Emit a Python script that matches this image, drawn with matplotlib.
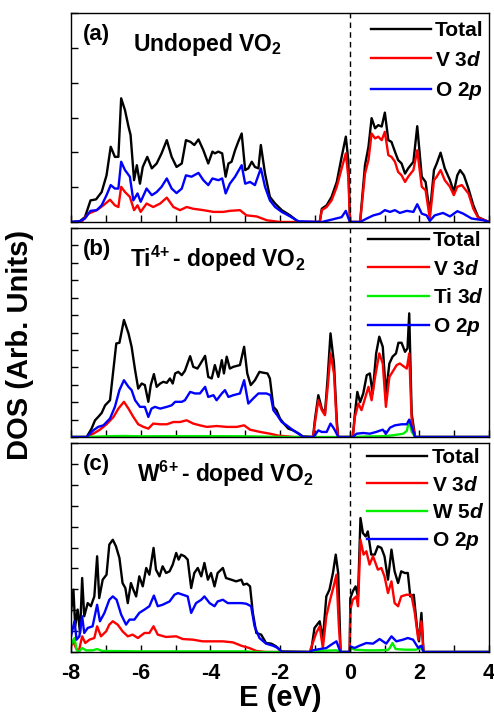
import matplotlib
matplotlib.use("Agg")
import matplotlib.pyplot as plt
from matplotlib.ticker import MultipleLocator

plt.rcParams['font.family'] = ['Liberation Sans', 'DejaVu Sans']
plt.rcParams['font.weight'] = 'bold'
plt.rcParams['axes.unicode_minus'] = False
plt.rcParams['mathtext.fontset'] = 'custom'
plt.rcParams['mathtext.rm'] = 'Liberation Sans:bold'
plt.rcParams['mathtext.it'] = 'Liberation Sans:italic:bold'
plt.rcParams['mathtext.bf'] = 'Liberation Sans:bold'

# ---------------- (a) undoped VO2 ----------------
a_tot_e = [-8, -7.75, -7.6, -7.44, -7.28, -7.12, -6.98, -6.86, -6.74, -6.64, -6.56, -6.45, -6.35, -6.29, -6.19,
           -6.11, -6.02, -5.94, -5.81, -5.68, -5.54, -5.4, -5.25, -5.11, -4.97, -4.82, -4.7, -4.57, -4.46, -4.34,
           -4.2, -4.06, -3.94, -3.87, -3.77, -3.66, -3.56, -3.48, -3.39, -3.29, -3.2, -3.1, -3.0, -2.91, -2.81,
           -2.72, -2.62, -2.55, -2.43, -2.29, -2.14, -1.95, -1.71, -1.47, -0.86, -0.8, -0.66, -0.52, -0.37, -0.23,
           -0.11, -0.04, 0.01, 0.3, 0.44, 0.54, 0.63, 0.73, 0.82, 0.92, 1.01, 1.11, 1.2, 1.3, 1.39, 1.49, 1.59,
           1.68, 1.83, 1.94, 2.07, 2.18, 2.3, 2.42, 2.5, 2.61, 2.73, 2.88, 2.99, 3.09, 3.17, 3.28, 3.41, 3.55,
           3.69, 3.88, 4.0]
a_tot = [0, 0.02, 0.14, 0.62, 0.65, 0.86, 1.34, 2.16, 1.87, 1.87, 3.55, 3.21, 2.74, 2.5, 1.2, 1.63, 1.1, 1.58,
         1.87, 1.54, 1.68, 1.97, 2.35, 1.87, 1.58, 1.68, 2.35, 2.3, 2.21, 2.37, 2.06, 1.68, 2.02, 1.97, 2.02, 1.97,
         1.3, 1.68, 1.73, 2.06, 2.3, 2.54, 1.49, 1.54, 1.73, 1.58, 1.54, 2.21, 1.39, 0.72, 0.53, 0.34, 0.19, 0.0,
         0.0, 0.38, 0.48, 0.72, 1.15, 1.87, 2.45, 1.78, 0.0, 0.0, 1.63, 2.16, 2.98, 2.69, 2.78, 2.74, 3.14, 2.35,
         2.3, 2.02, 1.78, 1.68, 1.39, 1.54, 1.73, 2.75, 1.3, 1.15, 0.24, 1.49, 1.68, 1.99, 1.54, 1.2, 0.86, 1.34,
         1.49, 1.34, 0.96, 0.48, 0.14, 0.05, 0.0]

a_v3d_e = [-8, -7.7, -7.5, -7.26, -7.07, -6.88, -6.74, -6.64, -6.56, -6.45, -6.31, -6.19, -6.09, -6.0, -5.83,
           -5.64, -5.44, -5.25, -5.06, -4.87, -4.68, -4.49, -4.2, -3.91, -3.63, -3.44, -3.15, -2.96, -2.67, -2.38,
           -2.0, -0.86, -0.8, -0.66, -0.52, -0.37, -0.23, -0.11, -0.04, 0.01, 0.3, 0.44, 0.54, 0.63, 0.73, 0.82,
           0.92, 1.01, 1.11, 1.2, 1.3, 1.39, 1.49, 1.59, 1.68, 1.83, 1.94, 2.07, 2.18, 2.3, 2.42, 2.5, 2.61, 2.73,
           2.88, 2.99, 3.09, 3.22, 3.41, 3.55, 3.69, 3.88, 4.0]
a_v3d = [0, 0, 0.24, 0.34, 0.48, 0.64, 0.48, 0.43, 1.01, 0.86, 0.72, 0.34, 0.48, 0.29, 0.53, 0.43, 0.53, 0.7,
         0.43, 0.34, 0.43, 0.38, 0.34, 0.29, 0.29, 0.32, 0.34, 0.19, 0.16, 0.05, 0.0, 0.0, 0.34, 0.43, 0.62, 1.01,
         1.54, 1.97, 1.3, 0.0, 0.0, 1.39, 1.78, 2.54, 2.4, 2.45, 2.35, 2.59, 1.92, 1.87, 1.73, 1.44, 1.34, 1.15,
         1.3, 1.49, 2.06, 1.01, 0.91, 0.1, 1.2, 1.3, 1.49, 1.2, 1.01, 0.77, 1.01, 1.06, 0.82, 0.38, 0.12, 0.05, 0.0]

a_o2p_e = [-8, -7.75, -7.6, -7.44, -7.26, -7.12, -6.98, -6.86, -6.74, -6.64, -6.56, -6.45, -6.31, -6.21, -6.09,
           -6.0, -5.83, -5.68, -5.54, -5.4, -5.25, -5.11, -4.97, -4.82, -4.7, -4.54, -4.34, -4.2, -4.06, -3.94,
           -3.77, -3.66, -3.56, -3.44, -3.29, -3.1, -3.0, -2.86, -2.72, -2.55, -2.43, -2.29, -2.14, -1.95, -1.71,
           -1.47, -0.8, -0.47, -0.23, -0.11, -0.04, 0.01, 0.3, 0.49, 0.68, 0.87, 1.01, 1.16, 1.3, 1.44, 1.64, 1.83,
           1.94, 2.07, 2.21, 2.3, 2.44, 2.68, 2.88, 3.09, 3.26, 3.5, 3.84, 4.0]
a_o2p = [0, 0.02, 0.1, 0.32, 0.34, 0.48, 0.77, 1.06, 0.96, 0.96, 1.73, 1.49, 1.3, 0.62, 0.82, 0.58, 0.96, 0.77,
         0.86, 1.01, 1.25, 0.96, 0.83, 0.96, 1.34, 1.3, 1.41, 1.2, 1.06, 1.25, 1.2, 1.25, 0.82, 1.1, 1.3, 1.63, 1.1,
         1.15, 1.06, 1.54, 1.01, 0.62, 0.43, 0.29, 0.16, 0.02, 0.0, 0.08, 0.14, 0.32, 0.12, 0.0, 0.0, 0.1, 0.19,
         0.24, 0.34, 0.29, 0.34, 0.26, 0.32, 0.29, 0.51, 0.24, 0.19, 0.03, 0.19, 0.26, 0.16, 0.31, 0.24, 0.1, 0.05,
         0.0]

# ---------------- (b) Ti4+ doped ----------------
b_tot_e = [-8, -7.55, -7.41, -7.31, -7.22, -7.12, -7.02, -6.88, -6.7, -6.61, -6.48, -6.35, -6.26, -6.16, -6.07,
           -5.97, -5.88, -5.78, -5.71, -5.62, -5.54, -5.44, -5.35, -5.25, -5.16, -5.08, -5.01, -4.92, -4.82, -4.73,
           -4.58, -4.49, -4.37, -4.28, -4.15, -4.06, -3.96, -3.87, -3.77, -3.67, -3.61, -3.53, -3.44, -3.34, -3.15,
           -3.03, -2.94, -2.84, -2.72, -2.59, -2.48, -2.36, -2.29, -2.19, -2.1, -2.0, -1.89, -1.76, -1.62, -1.47,
           -1.35, -1.05, -1.0, -0.9, -0.8, -0.71, -0.63, -0.55, -0.45, -0.37, -0.33, 0.09, 0.15, 0.22, 0.3, 0.39,
           0.49, 0.58, 0.66, 0.76, 0.85, 0.95, 1.04, 1.14, 1.23, 1.33, 1.4, 1.49, 1.59, 1.66, 1.71, 1.78, 1.88, 4.0]
b_tot = [0, 0, 0.48, 0.96, 1.15, 1.38, 1.82, 2.11, 5.37, 5.41, 6.72, 5.95, 5.18, 3.84, 2.78, 3.07, 2.98, 2.02,
         2.98, 3.61, 2.88, 3.07, 3.17, 3.11, 3.36, 3.07, 3.65, 3.74, 3.55, 3.8, 4.64, 4.03, 3.93, 4.22, 4.66, 3.45,
         3.36, 4.13, 3.45, 4.41, 3.65, 4.61, 3.93, 4.03, 4.13, 5.18, 3.65, 2.98, 3.26, 3.74, 3.69, 3.65, 3.36, 1.73,
         1.54, 1.06, 0.77, 0.48, 0.38, 0.21, 0.04, 0, 0.96, 2.4, 1.63, 1.34, 3.45, 5.95, 4.22, 0.96, 0, 0, 1.34,
         2.59, 2.0, 2.5, 3.55, 3.65, 2.5, 4.8, 5.76, 5.18, 2.5, 4.22, 4.61, 4.8, 5.41, 5.41, 4.89, 5.09, 7.1, 1.34,
         0, 0]

b_v3d_e = [-8, -7.55, -7.36, -7.17, -6.98, -6.78, -6.64, -6.48, -6.35, -6.21, -6.07, -5.92, -5.78, -5.64, -5.44,
           -5.25, -5.06, -4.87, -4.68, -4.49, -4.3, -4.1, -3.82, -3.53, -3.24, -3.03, -2.86, -2.57, -2.29, -2.05,
           -1.81, -1.6, -1.05, -1.0, -0.9, -0.8, -0.71, -0.63, -0.55, -0.45, -0.37, -0.33, 0.09, 0.15, 0.25, 0.34,
           0.44, 0.54, 0.63, 0.73, 0.85, 0.95, 1.04, 1.14, 1.23, 1.35, 1.44, 1.54, 1.64, 1.71, 1.78, 1.88, 4.0]
b_v3d = [0, 0, 0.19, 0.42, 0.73, 1.15, 1.63, 2.02, 1.63, 1.15, 0.73, 0.58, 0.48, 0.77, 0.73, 0.73, 0.86, 0.86,
         0.96, 0.77, 0.67, 0.58, 0.63, 0.58, 0.58, 0.67, 0.42, 0.29, 0.19, 0.08, 0.04, 0, 0, 0.77, 2.11, 1.54,
         1.25, 2.88, 4.8, 3.65, 0.67, 0, 0, 1.15, 1.92, 1.54, 2.21, 2.88, 2.11, 3.45, 4.8, 4.22, 1.73, 3.45, 3.74,
         4.13, 4.22, 4.07, 3.93, 4.8, 0.96, 0, 0]

b_ti3d_e = [-8, -7.6, -7.0, -6.5, -6.0, -5.0, -4.0, -3.0, -2.4, -1.8, 0.09, 0.5, 1.0, 1.25, 1.54, 1.64, 1.71,
            1.78, 1.88, 4.0]
b_ti3d = [0, 0, 0.04, 0.06, 0.04, 0.05, 0.05, 0.04, 0.02, 0, 0, 0.03, 0.05, 0.1, 0.19, 0.35, 0.96, 0.3, 0, 0]

b_o2p_e = [-8, -7.55, -7.36, -7.22, -7.07, -6.88, -6.74, -6.61, -6.48, -6.35, -6.26, -6.16, -6.02, -5.88, -5.78,
           -5.69, -5.59, -5.44, -5.25, -5.11, -5.01, -4.82, -4.73, -4.58, -4.44, -4.3, -4.15, -4.06, -3.91, -3.82,
           -3.67, -3.58, -3.48, -3.34, -3.15, -3.03, -2.91, -2.77, -2.62, -2.39, -2.27, -2.19, -2.08, -1.95, -1.81,
           -1.62, -1.47, -1.33, -1.05, -1.0, -0.9, -0.8, -0.66, -0.55, -0.45, -0.35, -0.33, 0.09, 0.2, 0.39, 0.58,
           0.76, 0.95, 1.04, 1.16, 1.3, 1.49, 1.64, 1.71, 1.78, 1.88, 4.0]
b_o2p = [0, 0, 0.38, 0.58, 0.67, 1.06, 1.73, 2.69, 3.26, 2.88, 2.69, 2.11, 1.73, 1.73, 1.15, 1.63, 1.73, 1.63,
         1.73, 1.82, 2.02, 2.02, 2.11, 2.59, 2.5, 2.5, 2.88, 2.3, 2.4, 2.11, 2.5, 2.69, 2.3, 2.4, 2.5, 3.26, 1.92,
         2.21, 2.5, 2.5, 2.4, 1.54, 1.25, 0.86, 0.67, 0.38, 0.19, 0, 0, 0.1, 0.38, 0.29, 0.29, 0.77, 0.48, 0.1, 0,
         0, 0.19, 0.23, 0.19, 0.29, 0.42, 0.19, 0.54, 0.67, 0.73, 0.73, 1.0, 0.58, 0, 0]

# ---------------- (c) W6+ doped ----------------
c_tot_e = [-8, -7.93, -7.88, -7.81, -7.74, -7.68, -7.62, -7.52, -7.43, -7.33, -7.25, -7.19, -7.09, -6.98, -6.9,
           -6.8, -6.71, -6.61, -6.52, -6.44, -6.37, -6.28, -6.21, -6.13, -6.04, -5.94, -5.84, -5.75, -5.63, -5.56,
           -5.46, -5.37, -5.27, -5.17, -5.08, -4.98, -4.91, -4.84, -4.74, -4.65, -4.55, -4.46, -4.36, -4.26, -4.17,
           -4.07, -3.98, -3.88, -3.79, -3.64, -3.55, -3.4, -3.26, -3.11, -3.05, -2.95, -2.86, -2.78, -2.68, -2.54,
           -2.4, -2.25, -2.11, -1.97, -1.15, -1.1, -1.01, -0.86, -0.77, -0.67, -0.58, -0.48, -0.4, -0.33, -0.26,
           0.0, 0.02, 0.09, 0.17, 0.24, 0.31, 0.38, 0.46, 0.52, 0.62, 0.72, 0.81, 0.91, 1.0, 1.1, 1.2, 1.29, 1.39,
           1.48, 1.58, 1.67, 1.74, 1.84, 1.93, 1.99, 2.06, 2.12, 4.0]
c_tot = [1.87, 2.98, 1.23, 2.03, 0.91, 3.54, 1.71, 2.34, 2.19, 2.66, 4.58, 2.58, 3.46, 3.7, 5.14, 5.37, 5.06, 4.5,
         3.3, 3.06, 2.34, 3.3, 2.98, 2.66, 3.62, 3.14, 4.02, 3.7, 4.98, 3.94, 3.62, 4.1, 3.78, 3.86, 4.18, 4.74,
         4.42, 4.66, 4.58, 4.42, 3.06, 3.78, 4.02, 3.62, 4.26, 3.46, 3.78, 3.14, 3.78, 4.02, 3.54, 3.46, 3.38, 3.46,
         3.22, 3.27, 3.14, 1.87, 0.91, 0.83, 0.43, 0.4, 0.27, 0.03, 0, 0.11, 1.15, 1.47, 0.59, 2.66, 2.98, 3.78,
         4.66, 3.78, 0, 0, 2.58, 2.9, 3.14, 2.66, 6.41, 5.69, 5.53, 5.77, 4.66, 4.66, 5.06, 4.98, 4.58, 3.46, 4.9,
         3.86, 3.3, 3.86, 3.78, 3.78, 2.66, 2.74, 1.23, 0.51, 1.87, 0, 0]

c_v3d_e = [-8, -7.93, -7.86, -7.78, -7.68, -7.59, -7.47, -7.33, -7.25, -7.14, -6.99, -6.9, -6.8, -6.66, -6.52,
           -6.37, -6.23, -6.08, -5.89, -5.75, -5.63, -5.51, -5.27, -4.98, -4.79, -4.5, -4.22, -3.93, -3.64, -3.35,
           -3.11, -2.88, -2.68, -2.4, -1.15, -1.06, -0.96, -0.86, -0.77, -0.67, -0.56, -0.46, -0.38, -0.31, -0.26,
           0.0, 0.02, 0.09, 0.19, 0.24, 0.31, 0.4, 0.48, 0.57, 0.67, 0.81, 0.91, 1.0, 1.1, 1.2, 1.29, 1.39, 1.48,
           1.63, 1.77, 1.87, 1.97, 2.06, 2.12, 4.0]
c_v3d = [0.27, 0.51, 0.19, 0, 0.75, 0.43, 0.59, 0.67, 1.23, 0.75, 0.99, 1.31, 1.47, 1.31, 0.99, 0.75, 0.83, 0.67,
         0.91, 0.91, 1.23, 0.83, 0.72, 0.75, 0.62, 0.59, 0.51, 0.51, 0.51, 0.46, 0.3, 0.19, 0.05, 0, 0, 0.43, 0.91,
         1.23, 0.19, 1.71, 2.5, 3.14, 3.7, 1.23, 0, 0, 2.03, 2.5, 2.66, 2.19, 5.37, 4.66, 4.82, 4.18, 4.58, 3.94,
         4.02, 3.62, 2.82, 3.38, 2.34, 2.19, 2.66, 2.74, 2.74, 1.87, 0.59, 1.47, 0, 0]

c_w5d_e = [-8, -7.9, -7.84, -7.78, -7.68, -7.57, -7.38, -7.25, -7.1, -6.0, -5.0, -4.0, -3.0, -2.7, -1.15, -1.0,
           -0.38, -0.26, 0.0, 0.02, 0.15, 0.5, 0.8, 1.1, 1.15, 1.23, 1.32, 1.6, 1.9, 2.06, 2.12, 4.0]
c_w5d = [0.35, 0.67, 0.11, 0, 0.19, 0.08, 0.08, 0.14, 0.05, 0.03, 0.03, 0.03, 0.03, 0, 0, 0.05, 0.08, 0, 0, 0.19,
         0.11, 0.08, 0.08, 0.1, 0.19, 0.43, 0.14, 0.11, 0.11, 0.19, 0, 0]

c_o2p_e = [-8, -7.9, -7.84, -7.76, -7.68, -7.62, -7.52, -7.38, -7.25, -7.17, -7.04, -6.9, -6.8, -6.69, -6.56,
           -6.42, -6.32, -6.18, -6.04, -5.89, -5.75, -5.62, -5.51, -5.37, -5.17, -5.03, -4.93, -4.79, -4.65, -4.55,
           -4.41, -4.26, -4.17, -4.02, -3.88, -3.79, -3.64, -3.5, -3.31, -3.11, -2.97, -2.83, -2.73, -2.59, -2.4,
           -2.2, -2.06, -1.94, -1.15, -1.06, -0.86, -0.67, -0.53, -0.38, -0.29, -0.26, 0.0, 0.02, 0.14, 0.28, 0.48,
           0.67, 0.86, 1.05, 1.2, 1.34, 1.53, 1.67, 1.82, 1.97, 2.06, 2.12, 4.0]
c_o2p = [0.75, 1.47, 0.59, 0.75, 1.71, 0.91, 1.15, 1.23, 2.26, 1.47, 1.87, 2.5, 2.66, 2.5, 1.79, 1.31, 1.55, 1.55,
         1.87, 2.03, 2.19, 2.7, 2.19, 2.26, 2.42, 2.74, 2.82, 2.74, 2.66, 1.87, 2.34, 2.5, 2.66, 2.34, 2.19, 2.42,
         2.5, 2.34, 2.34, 2.34, 2.31, 2.19, 1.23, 0.67, 0.4, 0.3, 0.19, 0, 0, 0.08, 0.14, 0.19, 0.35, 0.51, 0.11, 0,
         0, 0.27, 0.19, 0.3, 0.43, 0.4, 0.62, 0.4, 0.75, 0.51, 0.59, 0.67, 0.59, 0.19, 0.3, 0, 0]

panels = [
    ('(a)', 'Undoped VO$_2$', 6,
     [(a_tot_e, a_tot, 'black', 'Total'), (a_v3d_e, a_v3d, 'red', 'V 3$d$'),
      (a_o2p_e, a_o2p, 'blue', 'O 2$p$')]),
    ('(b)', r'Ti$^{4\!+}$- doped VO$_2$', 12,
     [(b_tot_e, b_tot, 'black', 'Total'), (b_v3d_e, b_v3d, 'red', 'V 3$d$'),
      (b_ti3d_e, b_ti3d, '#00ee00', 'Ti 3$d$'), (b_o2p_e, b_o2p, 'blue', 'O 2$p$')]),
    ('(c)', r'W$^{6\!+}$- doped VO$_2$', 10,
     [(c_tot_e, c_tot, 'black', 'Total'), (c_v3d_e, c_v3d, 'red', 'V 3$d$'),
      (c_w5d_e, c_w5d, '#00ee00', 'W 5$d$'), (c_o2p_e, c_o2p, 'blue', 'O 2$p$')]),
]

fig = plt.figure(figsize=(4.94, 7.19), dpi=100)
left, width, height = 71 / 494, 418 / 494, 209 / 719
tops = [13, 228, 443]
title_x = [0.148, 0.142, 0.158]
leg_y = [1.0 - 2 / 209, 1.0 + 3 / 209, 1.0 + 1 / 209]
leg_sp = [0.5, 0.45, 0.4]

for i, (tag, title, ymax, series) in enumerate(panels):
    ax = fig.add_axes([left, 1 - (tops[i] + 209) / 719, width, height])
    for e, d, col, lab in series:
        ax.plot(e, d, color=col, lw=1.7, label=lab)
    ax.axvline(0, color='black', lw=1.0, ls=(0, (4, 3)))
    ax.set_xlim(-8, 4)
    ax.set_ylim(0, ymax)
    ax.xaxis.set_major_locator(MultipleLocator(2))
    ax.xaxis.set_minor_locator(MultipleLocator(1))
    ax.yaxis.set_major_locator(MultipleLocator(1))
    ax.tick_params(axis='both', which='both', direction='in', length=5, width=1.0)
    ax.tick_params(axis='y', labelleft=False)
    ax.tick_params(axis='x', labelsize=15.5, pad=8)
    if i < 2:
        ax.tick_params(axis='x', labelbottom=False)
    for s in ax.spines.values():
        s.set_linewidth(1.0)
    ax.text(0.028, 0.945, tag, transform=ax.transAxes, fontsize=16, fontweight='bold', va='top')
    ax.text(title_x[i], 0.85, title, transform=ax.transAxes, fontsize=16.5, fontweight='bold', va='center')
    ax.legend(loc='upper right', frameon=False, fontsize=15, handlelength=2.9, handletextpad=0.2,
              labelspacing=leg_sp[i], borderaxespad=0.15, borderpad=0.15,
              bbox_to_anchor=(1.0 + 1 / 418, leg_y[i]))

fig.text(20 / 494, 1 - 345 / 719, 'DOS (Arb. Units)', rotation=90, fontsize=21, fontweight='bold',
         ha='center', va='center')
fig.text(280 / 494, 1 - 698 / 719, 'E (eV)', fontsize=21, fontweight='bold', ha='center', va='center')

fig.savefig('out.png', dpi=100)
